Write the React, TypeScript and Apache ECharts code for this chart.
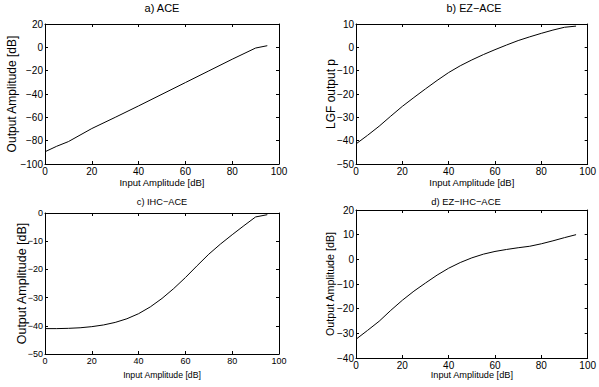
import React, { useEffect, useRef } from "react";
import * as echarts from "echarts";

// ---- data ----
const aceX = [0, 5, 10, 20, 30, 40, 50, 60, 70, 80, 90, 95];
const aceY = [-89.5, -84.8, -80.8, -69.6, -60, -50.2, -40.2, -30.2, -20.2, -10.2, -0.6, 1.4];

const ezX = [0, 5, 10, 15, 20, 25, 30, 35, 40, 45, 50, 55, 60, 65, 70, 75, 80, 85, 90, 95];
const ezY = [-41.4, -37.7, -33.8, -29.5, -25.3, -21.5, -17.8, -14.2, -10.8, -7.9, -5.4, -3.1, -1.0, 1.0, 2.9, 4.5, 6.0, 7.4, 8.6, 9.1];

const ihcX = [0, 5, 10, 15, 20, 25, 30, 35, 40, 45, 50, 55, 60, 65, 70, 75, 80, 85, 90, 95];
const ihcY = [-41, -41, -40.9, -40.7, -40.3, -39.7, -38.8, -37.5, -35.7, -33.3, -30.3, -26.8, -22.9, -18.7, -14.6, -11.0, -7.7, -4.5, -1.4, -0.6];

const ezihcX = [0, 5, 10, 15, 20, 25, 30, 35, 40, 45, 50, 55, 60, 65, 70, 75, 80, 85, 90, 95];
const ezihcY = [-32.4, -28.8, -25.1, -20.7, -16.6, -12.9, -9.6, -6.4, -3.6, -1.3, 0.6, 2.1, 3.2, 4.0, 4.7, 5.3, 6.3, 7.5, 8.8, 10];

const panelTitles = ["a) ACE", "b) EZ\u2212ACE", "c) IHC\u2212ACE", "d) EZ\u2212IHC\u2212ACE"];
const xNames = ["Input Amplitude [dB]", "Input Amplitude [dB]", "Input Amplitude [dB]", "Input Amplitude [dB]"];
const yNames = ["Output Amplitude [dB]", "LGF output p", "Output Amplitude [dB]", "Output Amplitude [dB]"];
const xRange = [0, 100, 20];
const yRanges = [
  [-100, 20, 20],
  [-50, 10, 10],
  [-50, 0, 10],
  [-40, 20, 10],
];

const FONT = "'Liberation Sans', Arial, Helvetica, sans-serif";

const fmt = (v: number) => (v < 0 ? "\u2212" + Math.abs(v) : String(v));

export default function App() {
  const ref = useRef<HTMLDivElement>(null);
  useEffect(() => {
    if (!ref.current) return;
    const chart = echarts.init(ref.current, undefined, { renderer: "svg" });

    const grids = [
      { left: 45, top: 24, width: 234, height: 140 },
      { left: 356, top: 24, width: 236, height: 140 },
      { left: 45, top: 213, width: 234, height: 141 },
      { left: 356, top: 210, width: 236, height: 148 },
    ];
    const tickFont = [10, 10, 9, 10];
    const xNameFont = [9.5, 9.5, 8.7, 9.2];
    const yNameFont = [12, 12, 12.5, 10.7];
    const xNameGap = [13, 13, 16, 12];
    const yNameGap = [27, 19, 17, 21];
    const titlePos = [
      [162, 8, 11],
      [474, 8, 10.8],
      [162, 202, 9.2],
      [466, 201, 9.4],
    ];

    const xAxes: any[] = [];
    const yAxes: any[] = [];
    const series: any[] = [];
    const datasets = [
      [aceX, aceY],
      [ezX, ezY],
      [ihcX, ihcY],
      [ezihcX, ezihcY],
    ];
    const line = { show: true, onZero: false, lineStyle: { color: "#000", width: 1 } };
    const tick = { show: true, inside: true, length: 3, lineStyle: { color: "#000", width: 1 } };

    for (let i = 0; i < 4; i++) {
      const [ymin, ymax, yint] = yRanges[i];
      xAxes.push({
        type: "value",
        gridIndex: i,
        position: "bottom",
        min: xRange[0],
        max: xRange[1],
        interval: xRange[2],
        axisLine: line,
        axisTick: tick,
        splitLine: { show: false },
        axisLabel: { show: true, color: "#000", fontFamily: FONT, fontSize: tickFont[i], margin: 2, formatter: fmt, showMinLabel: true, showMaxLabel: true },
        name: xNames[i],
        nameLocation: "middle",
        nameGap: xNameGap[i],
        nameMoveOverlap: false,
        nameTextStyle: { color: "#000", fontFamily: FONT, fontSize: xNameFont[i] },
      });
      xAxes.push({
        type: "value",
        gridIndex: i,
        position: "top",
        min: xRange[0],
        max: xRange[1],
        interval: xRange[2],
        axisLine: line,
        axisTick: tick,
        splitLine: { show: false },
        axisLabel: { show: false },
      });
      yAxes.push({
        type: "value",
        gridIndex: i,
        position: "left",
        min: ymin,
        max: ymax,
        interval: yint,
        axisLine: line,
        axisTick: tick,
        splitLine: { show: false },
        axisLabel: { show: true, color: "#000", fontFamily: FONT, fontSize: tickFont[i], margin: 2, formatter: fmt, showMinLabel: true, showMaxLabel: true },
        name: yNames[i],
        nameLocation: "middle",
        nameGap: yNameGap[i],
        nameMoveOverlap: false,
        nameTextStyle: { color: "#000", fontFamily: FONT, fontSize: yNameFont[i] },
      });
      yAxes.push({
        type: "value",
        gridIndex: i,
        position: "right",
        min: ymin,
        max: ymax,
        interval: yint,
        axisLine: line,
        axisTick: tick,
        splitLine: { show: false },
        axisLabel: { show: false },
      });
      const [xs, ys] = datasets[i];
      series.push({
        type: "line",
        name: panelTitles[i],
        xAxisIndex: i * 2,
        yAxisIndex: i * 2,
        data: xs.map((x, k) => [x, ys[k]]),
        showSymbol: false,
        smooth: false,
        lineStyle: { color: "#000", width: 1 },
        itemStyle: { color: "#000" },
      });
    }

    chart.setOption({
      animation: false,
      backgroundColor: "#fff",
      grid: grids.map((g) => ({ ...g, containLabel: false })),
      xAxis: xAxes,
      yAxis: yAxes,
      series,
      graphic: panelTitles.map((t, i) => ({
        type: "text",
        x: titlePos[i][0],
        y: titlePos[i][1],
        style: {
          text: t,
          fill: "#000",
          font: `${titlePos[i][2]}px ${FONT}`,
          textAlign: "center",
          textVerticalAlign: "middle",
        },
      })),
    });
    return () => chart.dispose();
  }, []);
  return (
    <div
      ref={ref}
      style={{ position: "absolute", left: 0, top: 0, width: 599, height: 387, background: "#fff" }}
    />
  );
}
